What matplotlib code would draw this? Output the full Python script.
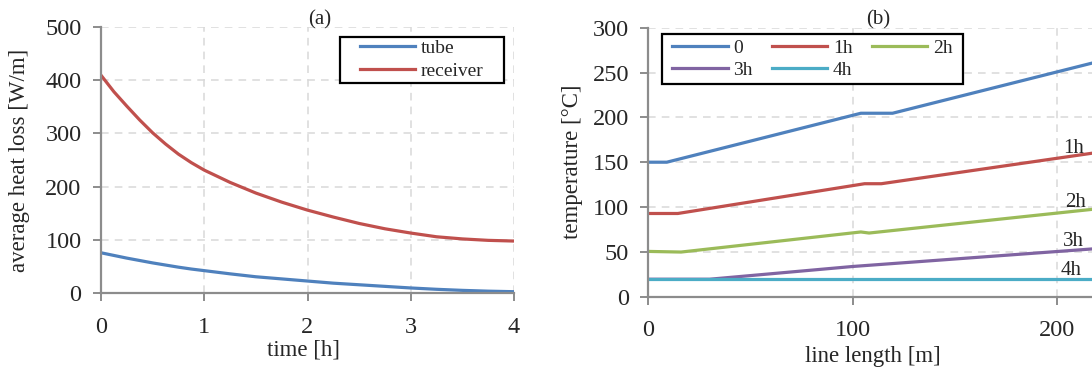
"""
Heat loss over time (a) and temperature along the line (b).
"""

import matplotlib
matplotlib.use("Agg")
import matplotlib.pyplot as plt
from matplotlib.patches import Rectangle

# (a) average heat loss [W/m] vs time [h]
time_h = [0, 0.125, 0.25, 0.375, 0.5, 0.625, 0.75, 0.875, 1, 1.25, 1.5, 1.75, 2,
          2.25, 2.5, 2.75, 3, 3.25, 3.5, 3.75, 4]
tube = [76, 71, 66, 61.5, 57, 53, 49, 45.5, 42.5, 36.5, 31, 27, 23,
        19, 16, 13, 10, 7.5, 5.5, 4, 3]
receiver = [409, 378, 351, 325, 301, 280, 261, 245, 231, 208, 188, 171, 156,
            143, 131, 121, 113, 106, 102, 99.3, 98]

# (b) temperature [°C] vs line length [m], one polyline per elapsed time
len_0 = [0, 9, 104, 119.5, 218]
temp_0 = [150, 150, 204.6, 204.6, 261]
len_1h = [0, 14.4, 105.8, 114, 218]
temp_1h = [92.8, 92.8, 126, 126, 160.3]
len_2h = [0, 16, 104, 108, 218]
temp_2h = [50.5, 49.8, 72.2, 71, 97.6]
len_3h = [0, 30, 100, 218]
temp_3h = [19.5, 19.5, 33.7, 53.4]
len_4h = [0, 218]
temp_4h = [19.5, 19.5]

series_b = [
    ("0", len_0, temp_0, "#4F81BD"),
    ("1h", len_1h, temp_1h, "#C0504D"),
    ("2h", len_2h, temp_2h, "#9BBB59"),
    ("3h", len_3h, temp_3h, "#8064A2"),
    ("4h", len_4h, temp_4h, "#4BACC6"),
]
# inline labels at the right end of the curves (x, y in data units)
end_labels = [("1h", 203, 165), ("2h", 204, 105), ("3h", 203, 62), ("4h", 202, 29)]

plt.rcParams['font.family'] = ['Liberation Serif', 'DejaVu Serif']

TXT = "#262626"
W, H = 1092, 368
fig = plt.figure(figsize=(W / 100, H / 100), dpi=100)


def px_axes(x0, x1, y_top, y_bot):
    return fig.add_axes([x0 / W, 1 - y_bot / H, (x1 - x0) / W, (y_bot - y_top) / H])


def style_axes(ax):
    for side in ("top", "right"):
        ax.spines[side].set_visible(False)
    for side in ("left", "bottom"):
        ax.spines[side].set_color("#8c8c8c")
        ax.spines[side].set_linewidth(1.6)
    ax.tick_params(direction="out", length=6, width=1.4, color="#8c8c8c",
                   labelsize=17.5, labelcolor=TXT)
    ax.tick_params(axis="y", pad=8)
    ax.tick_params(axis="x", pad=11)
    ax.grid(True, color="#d9d9d9", linestyle=(0, (5, 4)), linewidth=1.1)
    ax.set_axisbelow(True)


def boxed_legend(ax, handles, labels, box, **kw):
    # box = (left, top, right, bottom) in picture pixels; legend is centred in it
    x0, y0, x1, y1 = box
    ax.add_patch(Rectangle((x0 / W, 1 - y1 / H), (x1 - x0) / W, (y1 - y0) / H,
                           transform=fig.transFigure, facecolor="white",
                           edgecolor="black", linewidth=1.6, zorder=4, clip_on=False))
    leg = ax.legend(handles, labels, loc="center",
                    bbox_to_anchor=((x0 + x1) / 2 / W, 1 - (y0 + y1) / 2 / H),
                    bbox_transform=fig.transFigure, fontsize=14, handlelength=2.85,
                    handletextpad=0.28, borderpad=0, labelspacing=0.25,
                    frameon=False, borderaxespad=0, **kw)
    leg.set_zorder(5)
    for t in leg.get_texts():
        t.set_color(TXT)
    return leg


# ---- (a) ----
ax1 = px_axes(101, 514, 26.7, 293.3)
style_axes(ax1)
l_tube, = ax1.plot(time_h, tube, color="#4F81BD", linewidth=2.3)
l_recv, = ax1.plot(time_h, receiver, color="#C0504D", linewidth=2.3)
ax1.set_xlim(0, 4)
ax1.set_ylim(0, 500)
ax1.set_xticks([0, 1, 2, 3, 4])
ax1.set_yticks([0, 100, 200, 300, 400, 500])
ax1.set_xlabel("time [h]", fontsize=16.5, color=TXT)
ax1.set_ylabel("average heat loss [W/m]", fontsize=16.5, color=TXT)
ax1.xaxis.set_label_coords(0.49, -0.172)
ax1.yaxis.set_label_coords(-0.172, 0.5)
boxed_legend(ax1, [l_tube, l_recv], ["tube", "receiver"], (339.5, 36.7, 503.8, 82.7))
fig.text(320 / W, 1 - 20 / H, "(a)", fontsize=15, ha="center", va="center", color=TXT)

# ---- (b) ----  (axis continues past the right edge of the picture)
ax2 = px_axes(648.4, 648.4 + 3 * 204.3, 27.7, 296.7)
style_axes(ax2)
lines_b = []
for name, xs, ys, col in series_b:
    ln, = ax2.plot(xs, ys, color=col, linewidth=2.3)
    lines_b.append(ln)
ax2.set_xlim(0, 300)
ax2.set_ylim(0, 300)
ax2.set_xticks([0, 100, 200])
ax2.set_yticks(range(0, 301, 50))
for txt, x, y in end_labels:
    ax2.text(x, y, txt, fontsize=15, ha="left", va="center", color=TXT)
ax2.set_xlabel("line length [m]", fontsize=16.5, color=TXT)
ax2.set_ylabel("temperature [°C]", fontsize=16.5, color=TXT)
ax2.xaxis.set_label_coords(0.366, -0.182)
ax2.yaxis.set_label_coords(-0.107, 0.5)
# legend rows read 0, 1h, 2h / 3h, 4h -> matplotlib fills by column
order = [0, 3, 1, 4, 2]
boxed_legend(ax2, [lines_b[i] for i in order], [series_b[i][0] for i in order],
             (661.7, 34.3, 962.7, 84), ncol=3, columnspacing=1.0)
fig.text(878 / W, 1 - 20 / H, "(b)", fontsize=15, ha="center", va="center", color=TXT)

fig.savefig("out.png", dpi=100)
